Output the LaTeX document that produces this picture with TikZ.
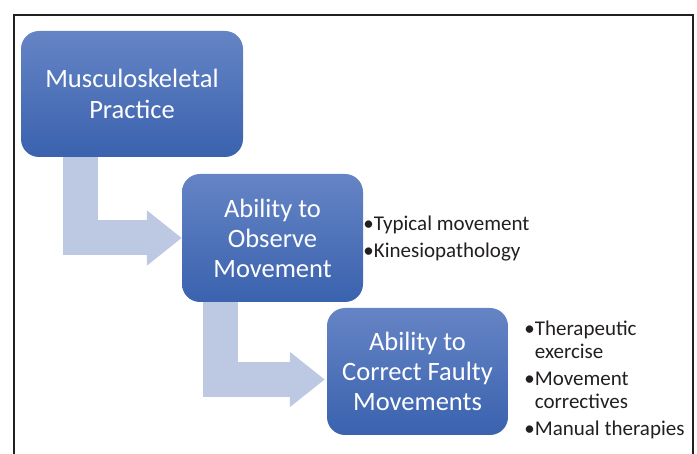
\documentclass[tikz,border=0pt]{standalone}
\usepackage{fontspec}
\setmainfont{Carlito}
\usetikzlibrary{calc,arrows.meta,backgrounds}

\definecolor{boxtop}{HTML}{6584C5}
\definecolor{boxbottom}{HTML}{3A62AE}
\definecolor{flowfill}{HTML}{BDC8E3}
\definecolor{inkgray}{HTML}{231F20}

\tikzset{
  stagebox/.style={rounded corners=18pt, top color=boxtop, bottom color=boxbottom,
    text=white, align=center, inner sep=0pt, font=\fontsize{26.5}{30}\selectfont},
  notes/.style={anchor=west, align=left, inner sep=0pt, text=inkgray,
    font=\fontsize{21}{23}\selectfont},
  flow/.style={draw=flowfill, line width=35pt, line join=miter,
    -{Triangle[length=35pt,width=53pt,fill=flowfill]}}
}

\newcommand{\indentbullet}{\phantom{\textbullet}}

\begin{document}
\begin{tikzpicture}[x=1pt,y=-1pt]
\useasboundingbox (0,0) rectangle (697,454);

% outer frame (open at the bottom)
\draw[inkgray, line width=2.5pt] (14,455) -- (14,15) -- (693,15) -- (693,455);

% the three stages
\node[stagebox, minimum width=222pt, minimum height=126pt] (msk) at (132,94) {Musculoskeletal\\[1pt]Practice};
\node[stagebox, minimum width=181pt, minimum height=128pt] (observe) at (272.5,238) {Ability to\\Observe\\Movement};
\node[stagebox, minimum width=181pt, minimum height=127pt] (correct) at (417.5,371.5) {Ability to\\Correct Faulty\\Movements};

% side notes
\node[notes] (obsnotes) at ($(observe.east)+(0,0.5)$) {\textbullet Typical movement\\[4pt]\textbullet Kinesiopathology};
\node[notes] (cornotes) at ($(correct.east)+(16,8)$) {\textbullet Therapeutic\\\indentbullet exercise\\[4pt]\textbullet Movement\\\indentbullet correctives\\[4pt]\textbullet Manual therapies};

% bent arrows between the stages
\begin{scope}[on background layer]
\draw[flow] ($(msk.south west)+(59.5,-2)$) |- (observe.west);
\draw[flow] ($(observe.south west)+(38.5,-2)$) |- ($(correct.west)+(-2,8)$);
\end{scope}

\end{tikzpicture}
\end{document}
